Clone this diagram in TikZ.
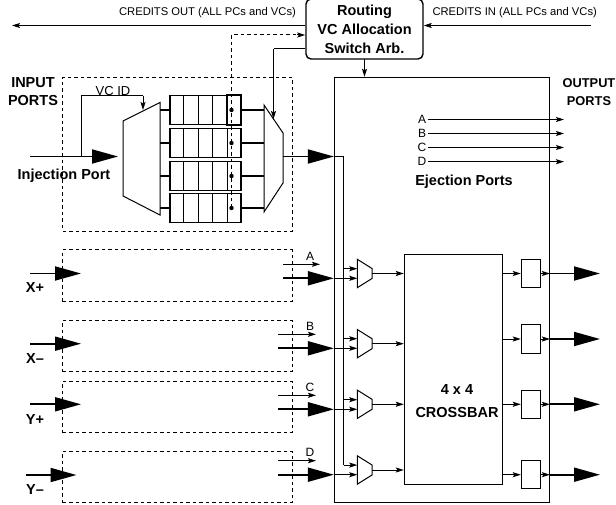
\documentclass[tikz,border=0pt]{standalone}
\usepackage{fontspec}
\setmainfont{Liberation Sans}
\usetikzlibrary{arrows.meta,calc}

\begin{document}
\begin{tikzpicture}[
    x=1pt, y=-1pt,
    line width=1pt,
    label/.style={font=\fontsize{11.2}{13}\selectfont, inner sep=0pt},
    tag/.style={font=\fontsize{12}{14}\selectfont, inner sep=0pt},
    title/.style={font=\fontsize{14.5}{18}\selectfont\bfseries, align=center, inner sep=0pt},
    portbox/.style={draw, dashed, dash pattern=on 3.5pt off 3pt, minimum width=229.5pt, inner sep=0pt},
    buffer/.style={draw, line width=1.2pt, minimum width=71pt, minimum height=28.5pt, inner sep=0pt},
    outbuf/.style={draw, minimum width=19pt, minimum height=28.4pt, inner sep=0pt},
    arrow/.style={-{Stealth[length=8pt,width=5pt,inset=1.5pt]}},
    bigarrow/.style={-{Triangle[length=26pt,width=14pt]}, line width=1.8pt}
]
\useasboundingbox (0,0) rectangle (616,505);

% Control block and router
\node[draw, line width=1.4pt, rounded corners=5pt, minimum width=117pt, minimum height=60pt, align=center, inner sep=0pt,
      font=\fontsize{14.5}{19}\selectfont\bfseries] (routing) at (364.5,29) {Routing\\VC Allocation\\Switch Arb.};
\node[draw, minimum width=215pt, minimum height=425.4pt, inner sep=0pt] (router) at (441.9,290) {};
\node[draw, minimum width=98.4pt, minimum height=229.6pt, inner sep=0pt] (crossbar) at (453.5,369.5) {};
\node[title, font=\fontsize{14.5}{23}\selectfont\bfseries] (crosstext) at (457,401.5) {4 x 4\\CROSSBAR};
\node[title] (ejection) at (464,181.5) {Ejection Ports};

% Credits
\coordinate (creditsoutend) at (12,25.5);
\coordinate (creditsinstart) at (591,25.5);
\node[label] (creditsout) at (207.5,13) {CREDITS OUT (ALL PCs and VCs)};
\node[label] (creditsin) at (514.7,13) {CREDITS IN (ALL PCs and VCs)};
\draw[arrow] (routing.west |- creditsoutend) -- (creditsoutend);
\draw[arrow] (creditsinstart) -- (routing.east |- creditsinstart);
\draw[arrow] (routing.south |- 0,59) -- (routing.south |- router.north);

% Port labels
\node[title] (inputports) at (33,92) {INPUT\\PORTS};
\node[title, font=\fontsize{12.8}{18}\selectfont\bfseries] (outputports) at (589,92) {OUTPUT\\PORTS};
\node[title] (injlabel) at (64,176) {Injection Port};

% Dashed input port boxes
\node[portbox, minimum height=154pt] (injbox) at (177.5,154.3) {};
\foreach \name/\y in {xp/275.8, xm/346, yp/406.9, ym/477}
    \node[portbox, minimum height=51.6pt] (\name box) at (177.5,\y) {};

% Injection port
\coordinate (injstart) at (30,156.5);
\coordinate (injend) at (118,156.5);
\coordinate (vcidjoin) at (81.5,156.5);
\coordinate (vcidtip) at (143,110);
\draw[bigarrow] (injstart) -- (injend);
\draw (vcidjoin) |- (143,96) coordinate (vcidcorner);
\draw[arrow] (vcidcorner) -- (vcidtip);
\node[label, font=\fontsize{13}{15}\selectfont] (vcid) at (113,91) {VC ID};
\draw (123,121) -- (160,102.5) -- (160,215) -- (123,196) -- cycle;

% VC buffers
\foreach \i/\y in {1/110, 2/143, 3/176, 4/208} {
    \node[buffer] (vcbuf\i) at (205.5,\y) {};
    \foreach \j in {1,...,4}
        \draw ($(vcbuf\i.north west)!\j/5!(vcbuf\i.north east)$) -- ($(vcbuf\i.south west)!\j/5!(vcbuf\i.south east)$);
    \coordinate (demuxout\i) at (160,\y);
    \coordinate (muxin\i) at (264,\y);
    \draw[line width=1.2pt] (demuxout\i) -- (vcbuf\i.west);
    \draw[line width=1.2pt] (vcbuf\i.east) -- (muxin\i);
}
\draw[line width=1.6pt] ($(vcbuf1.north west)!4/5!(vcbuf1.north east)$) rectangle (vcbuf1.south east);
\draw (264,105) -- (283,133) -- (283,183) -- (264,212) -- cycle;

% Dashed request line
\coordinate (reqstart) at (231.5,208);
\coordinate (reqcorner) at (231.5,35);
\draw[dashed, dash pattern=on 3.5pt off 3pt] (reqstart) -- (reqcorner) -- (297,35) coordinate (reqend);
\draw[arrow] (reqend) -- (reqend -| routing.west);
\foreach \i in {1,...,4}
    \fill (vcbuf\i.center -| reqstart) circle (2.2pt);
\coordinate (grantcorner) at (273.5,49);
\coordinate (granttip) at (273.5,119);
\draw (routing.west |- grantcorner) -- (grantcorner);
\draw[arrow] (grantcorner) -- (granttip);

% Switch inputs
\coordinate (muxout) at (283,156.5);
\coordinate (switchin) at (343.5,156.5);
\draw[bigarrow] (muxout) -- (router.west |- muxout);
\draw (router.west |- muxout) -- (switchin) -- (343.5,465);
\foreach \i/\y/\yb in {1/273.5/278.3, 2/343.7/348.3, 3/404.3/409.3, 4/470/474.7} {
    \draw (357.3,{\y-14.2}) -- (372,{\y-5}) -- (372,{\y+5}) -- (357.3,{\y+14.2}) -- cycle;
    \coordinate (switch\i) at (372,\y);
    \draw[arrow] (switch\i) -- (crossbar.west |- switch\i);
    \draw[arrow] (343.5,{\yb-9.6}) -- (357.3,{\yb-9.6});
}

% Other input ports
\foreach \name/\lab/\x/\y/\ylab in {xp/X+/30/273.5/288, xm/X--/30/343.7/358.7, yp/Y+/30/404.3/419.7, ym/Y--/25.5/475/489.3} {
    \coordinate (\name in) at (\x,\y);
    \draw[bigarrow] (\name in) -- ({\x+51},\y);
    \node[title] (\name label) at (35,\ylab) {\lab};
}

% Port outputs
\foreach \name/\lab/\x/\tip/\ya/\yb in {xp/A/283/320/264.3/278.3, xm/B/278/316/334.3/348.3, yp/C/278/316/395.3/409.3, ym/D/278/316/460.7/474.7} {
    \coordinate (\name thin) at (\x,\ya);
    \coordinate (\name thick) at (\x,\yb);
    \draw[arrow] (\name thin) -- (\tip,\ya);
    \draw[bigarrow] (\name thick) -- (router.west |- \name thick);
    \draw[arrow] (router.west |- \name thick) -- (357.3,\yb);
    \node[tag] (\name tag) at (310,{\ya-8.3}) {\lab};
}

% Ejection ports
\foreach \lab/\y in {A/119.5, B/133.5, C/147.5, D/161.7} {
    \node[tag] (eject\lab) at (422,\y) {\lab};
    \draw[arrow] (428,\y) -- (564,\y);
}

% Output buffers
\foreach \i/\y in {1/273.5, 2/339, 3/404.3, 4/474.7} {
    \node[outbuf] (obuf\i) at (530.8,\y) {};
    \coordinate (xout\i) at (502.7,\y);
    \draw[arrow] (xout\i) -- (obuf\i.west);
    \draw[arrow] (obuf\i.east) -- (router.east |- obuf\i);
    \draw[bigarrow] (router.east |- obuf\i) -- (600,\y);
}

\end{tikzpicture}
\end{document}
